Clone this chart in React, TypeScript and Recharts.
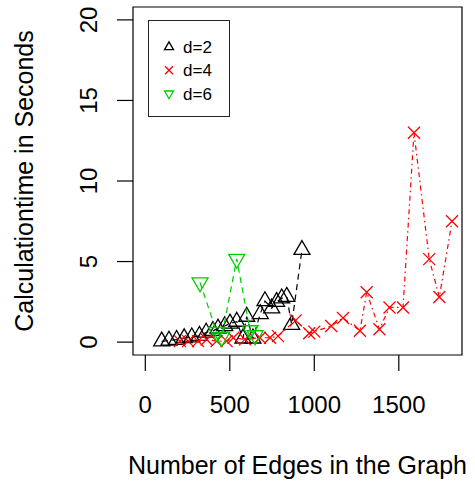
import React from "react";
import { ScatterChart, Scatter, XAxis, YAxis, ReferenceArea } from "recharts";

// d = 2
const edgesD2 = [97, 140, 185, 230, 275, 320, 360, 400, 430, 470, 501, 541, 578, 600, 637, 680, 708, 748, 777, 807, 837, 866, 927];
const secondsD2 = [0.05, 0.1, 0.15, 0.25, 0.3, 0.4, 0.6, 0.7, 0.85, 1.0, 1.16, 1.27, 0.23, 1.58, 0.23, 1.75, 2.55, 2.1, 2.5, 2.72, 2.82, 1.08, 5.73];

// d = 4
const edgesD4 = [205, 253, 312, 363, 422, 481, 521, 590, 678, 738, 785, 890, 970, 1000, 1100, 1170, 1270, 1310, 1385, 1445, 1525, 1590, 1680, 1740, 1815];
const secondsD4 = [0.06, 0.06, 0.06, 0.16, 0.06, 0.06, 0.27, 0.17, 0.27, 0.27, 0.37, 1.35, 0.55, 0.65, 1.0, 1.5, 0.7, 3.1, 0.8, 2.15, 2.15, 13.0, 5.15, 2.8, 7.5];

// d = 6
const edgesD6 = [324, 422, 452, 541, 620, 650];
const secondsD6 = [3.7, 0.62, 0.31, 5.16, 0.73, 0.42];

const xTicks = [0, 500, 1000, 1500];
const yTicks = [0, 5, 10, 15, 20];
const seriesNames = ["d=2", "d=4", "d=6"];

const X_DOMAIN: [number, number] = [-72.8, 1874];
const Y_DOMAIN: [number, number] = [-0.8, 20.8];
const FONT = '"Liberation Sans", Arial, Helvetica, sans-serif';

const BLACK = "#000000";
const RED = "#FF0000";
const GREEN = "#00CD00";

const toPoints = (xs: number[], ys: number[]) =>
  xs.map((edges, i) => ({ edges, seconds: ys[i] }));

const dataD2 = toPoints(edgesD2, secondsD2);
const dataD4 = toPoints(edgesD4, secondsD4);
const dataD6 = toPoints(edgesD6, secondsD6);

// R-style plotting symbols (pch 2, 4, 6)
const triUpPath = (cx: number, cy: number, s: number) =>
  `M${cx},${cy - 1.155 * s}L${cx + s},${cy + 0.577 * s}L${cx - s},${cy + 0.577 * s}Z`;
const triDownPath = (cx: number, cy: number, s: number) =>
  `M${cx},${cy + 1.155 * s}L${cx + s},${cy - 0.577 * s}L${cx - s},${cy - 0.577 * s}Z`;
const crossPath = (cx: number, cy: number, s: number) =>
  `M${cx - s},${cy - s}L${cx + s},${cy + s}M${cx - s},${cy + s}L${cx + s},${cy - s}`;

const TriangleUp = ({ cx, cy }: any) => (
  <path d={triUpPath(cx, cy, 8)} fill="none" stroke={BLACK} strokeWidth={1.3} />
);
const Cross = ({ cx, cy }: any) => (
  <path d={crossPath(cx, cy, 6)} fill="none" stroke={RED} strokeWidth={1.3} />
);
const TriangleDown = ({ cx, cy }: any) => (
  <path d={triDownPath(cx, cy, 8)} fill="none" stroke={GREEN} strokeWidth={1.3} />
);

const XTick = ({ x, y, payload }: any) => (
  <g>
    <line x1={x} x2={x} y1={y} y2={y + 16} stroke={BLACK} strokeWidth={1.2} />
    <text x={x} y={y + 58} textAnchor="middle" fontSize={24} fontFamily={FONT} fill={BLACK}>
      {payload.value}
    </text>
  </g>
);

const YTick = ({ x, y, payload }: any) => (
  <g>
    <line x1={x - 16} x2={x} y1={y} y2={y} stroke={BLACK} strokeWidth={1.2} />
    <text
      x={x - 36}
      y={y}
      transform={`rotate(-90, ${x - 36}, ${y})`}
      textAnchor="middle"
      fontSize={24}
      fontFamily={FONT}
      fill={BLACK}
    >
      {payload.value}
    </text>
  </g>
);

const legendItems = [
  { name: seriesNames[0], color: BLACK, path: (cx: number, cy: number) => triUpPath(cx, cy, 4.5) },
  { name: seriesNames[1], color: RED, path: (cx: number, cy: number) => crossPath(cx, cy, 4) },
  { name: seriesNames[2], color: GREEN, path: (cx: number, cy: number) => triDownPath(cx, cy, 4.5) },
];

const PlotLegend = () => (
  <div
    style={{
      position: "absolute",
      left: 148,
      top: 20,
      width: 82,
      height: 97,
      border: "1.3px solid #222",
      background: "#fff",
      boxSizing: "border-box",
    }}
  >
    <svg width={80} height={95}>
      {legendItems.map((item, i) => (
        <g key={item.name}>
          <path d={item.path(20, 26 + i * 23.3)} fill="none" stroke={item.color} strokeWidth={1.3} />
          <text x={34} y={26 + i * 23.3 + 6} fontSize={17} fontFamily={FONT} fill={BLACK}>
            {item.name}
          </text>
        </g>
      ))}
    </svg>
  </div>
);

export default function App() {
  return (
    <div
      style={{
        position: "absolute",
        left: 0,
        top: 0,
        width: 475,
        height: 485,
        background: "#fff",
        fontFamily: FONT,
      }}
    >
      <ScatterChart width={475} height={485} margin={{ top: 7, right: 13, bottom: 0, left: 0 }}>
        <XAxis
          type="number"
          dataKey="edges"
          domain={X_DOMAIN}
          ticks={xTicks}
          interval={0}
          allowDataOverflow
          height={130}
          axisLine={false}
          tickLine={false}
          tickSize={0}
          tickMargin={0}
          tick={<XTick />}
          label={{
            value: "Number of Edges in the Graph",
            position: "insideBottom",
            offset: 11,
            fontSize: 25,
            fill: BLACK,
            fontFamily: FONT,
          }}
        />
        <YAxis
          type="number"
          dataKey="seconds"
          domain={Y_DOMAIN}
          ticks={yTicks}
          interval={0}
          allowDataOverflow
          width={133}
          axisLine={false}
          tickLine={false}
          tickSize={0}
          tickMargin={0}
          tick={<YTick />}
          label={{
            value: "Calculationtime in Seconds",
            content: ({ viewBox }: any) => {
              const vb = viewBox || { x: 0, y: 7, width: 133, height: 348 };
              const lx = vb.x + 33;
              const ly = vb.y + vb.height / 2;
              return (
                <text
                  x={lx}
                  y={ly}
                  transform={`rotate(-90, ${lx}, ${ly})`}
                  textAnchor="middle"
                  fontSize={25}
                  fontFamily={FONT}
                  fill={BLACK}
                >
                  Calculationtime in Seconds
                </text>
              );
            },
          }}
        />
        <ReferenceArea
          x1={X_DOMAIN[0]}
          x2={X_DOMAIN[1]}
          y1={Y_DOMAIN[0]}
          y2={Y_DOMAIN[1]}
          fill="none"
          stroke={BLACK}
          strokeWidth={1.2}
          ifOverflow="visible"
        />
        <Scatter
          name={seriesNames[0]}
          data={dataD2}
          shape={<TriangleUp />}
          line={{ stroke: BLACK, strokeWidth: 1.2, strokeDasharray: "6 4.5" }}
          isAnimationActive={false}
        />
        <Scatter
          name={seriesNames[1]}
          data={dataD4}
          shape={<Cross />}
          line={{ stroke: RED, strokeWidth: 1.2, strokeDasharray: "1.5 3.5 5 3.5" }}
          isAnimationActive={false}
        />
        <Scatter
          name={seriesNames[2]}
          data={dataD6}
          shape={<TriangleDown />}
          line={{ stroke: GREEN, strokeWidth: 1.2, strokeDasharray: "6 4.5" }}
          isAnimationActive={false}
        />
      </ScatterChart>
      <PlotLegend />
    </div>
  );
}
